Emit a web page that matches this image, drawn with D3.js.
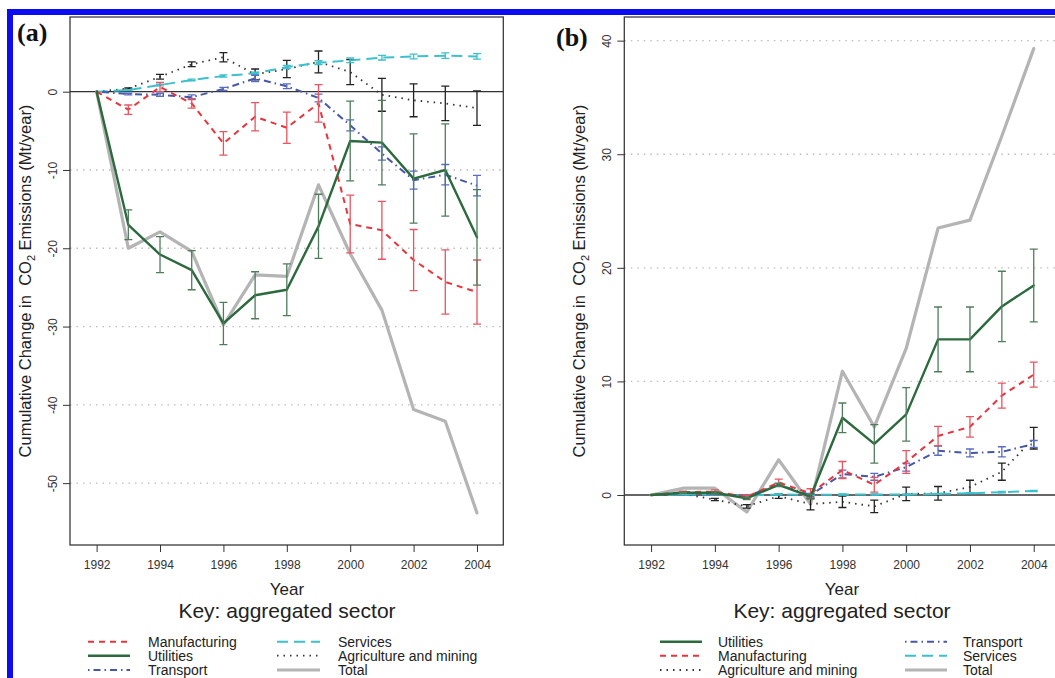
<!DOCTYPE html>
<html>
<head>
<meta charset="utf-8">
<script src="https://cdn.jsdelivr.net/npm/d3@7"></script>
<style>
body { margin: 0; background: #fff; }
text { font-family: "Liberation Sans", Arial, sans-serif; fill: #222; }
text.tag { font-family: "Liberation Serif", "Times New Roman", serif; font-weight: bold; fill: #111; }
</style>
</head>
<body>
<svg id="chart" width="1055" height="678"></svg>
<script>
const years = [1992, 1993, 1994, 1995, 1996, 1997, 1998, 1999, 2000, 2001, 2002, 2003, 2004];
const xTicks = [1992, 1994, 1996, 1998, 2000, 2002, 2004];

// panel (a): cumulative change, Mt/year
const aManufacturing    = [0, -2.3, 0.6, -1.5, -6.6, -3.2, -4.6, -1.5, -16.9, -17.7, -21.5, -24.3, -25.6];
const aManufacturingErr = [0, 0.6, 0.6, 0.6, 1.5, 1.8, 2.0, 2.4, 3.7, 3.7, 3.9, 4.1, 4.1];
const aUtilities        = [0, -17.0, -20.8, -22.8, -29.6, -26.0, -25.3, -17.2, -6.3, -6.5, -11.1, -10.0, -18.6];
const aUtilitiesErr     = [0, 1.9, 2.3, 2.5, 2.7, 3.0, 3.3, 4.1, 5.1, 5.4, 5.7, 5.9, 6.1];
const aTransport        = [0, -0.3, -0.4, -0.7, 0.35, 1.7, 0.7, -0.8, -4.3, -7.9, -11.3, -10.6, -12.0];
const aTransportErr     = [0, 0.1, 0.2, 0.3, 0.2, 0.4, 0.3, 0.5, 0.7, 0.85, 1.15, 1.3, 1.3];
const aServices         = [0, 0.2, 0.85, 1.5, 2.0, 2.35, 3.15, 3.7, 4.0, 4.35, 4.5, 4.6, 4.5];
const aServicesErr      = [0, 0.05, 0.1, 0.1, 0.15, 0.15, 0.2, 0.25, 0.3, 0.3, 0.3, 0.35, 0.35];
const aAgriculture      = [0, 0.4, 1.9, 3.5, 4.4, 2.2, 2.9, 3.8, 2.5, -0.4, -1.1, -1.5, -2.1];
const aAgricultureErr   = [0, 0.1, 0.3, 0.3, 0.6, 0.7, 1.1, 1.4, 1.6, 2.1, 2.1, 2.2, 2.2];
const aTotal            = [0, -20.0, -17.9, -20.4, -29.8, -23.4, -23.6, -11.9, -20.7, -27.9, -40.6, -42.1, -53.8];
const aTicksY = [0, -10, -20, -30, -40, -50];

// panel (b)
const bManufacturing    = [0, 0.25, 0.3, -0.15, 1.1, 0.15, 2.2, 0.9, 2.9, 5.2, 6.0, 8.75, 10.6];
const bManufacturingErr = [0, 0.1, 0.15, 0.15, 0.3, 0.4, 0.75, 0.65, 1.0, 0.85, 0.9, 1.1, 1.1];
const bUtilities        = [0, 0.2, 0.2, -0.3, 0.9, -0.15, 6.8, 4.5, 7.1, 13.7, 13.7, 16.6, 18.45];
const bUtilitiesErr     = [0, 0.05, 0.1, 0.1, 0.15, 0.2, 1.3, 1.7, 2.35, 2.85, 2.85, 3.1, 3.2];
const bTransport        = [0, 0.2, 0.1, -0.1, 0.9, 0.0, 1.85, 1.6, 2.45, 3.9, 3.7, 3.8, 4.5];
const bTransportErr     = [0, 0.05, 0.05, 0.1, 0.1, 0.15, 0.35, 0.3, 0.35, 0.4, 0.35, 0.45, 0.3];
const bServices         = [0, 0.05, 0.05, -0.05, 0.05, 0, 0.05, 0.05, 0.05, 0.1, 0.15, 0.25, 0.35];
const bServicesErr      = [0, 0.03, 0.03, 0.03, 0.04, 0.04, 0.05, 0.05, 0.05, 0.05, 0.05, 0.06, 0.06];
const bAgriculture      = [0, 0.1, -0.4, -1.0, -0.1, -0.8, -0.6, -1.0, 0.1, 0.15, 0.7, 2.05, 5.0];
const bAgricultureErr   = [0, 0.05, 0.1, 0.15, 0.2, 0.5, 0.5, 0.55, 0.6, 0.6, 0.6, 0.75, 0.95];
const bTotal            = [0, 0.6, 0.6, -1.5, 3.1, -0.8, 10.9, 6.0, 12.9, 23.5, 24.2, 31.6, 39.3];
const bTicksY = [0, 10, 20, 30, 40];

// legend order, column by column
const keyA = [["Manufacturing", "Utilities", "Transport"], ["Services", "Agriculture and mining", "Total"]];
const keyB = [["Utilities", "Manufacturing", "Agriculture and mining"], ["Transport", "Services", "Total"]];

const style = {
    "Manufacturing":          {color: "#e8343c", bar: "#e85560", dash: "6,5", width: 2},
    "Utilities":              {color: "#2b6a3c", bar: "#4f7d5c", dash: null, width: 2.4},
    "Transport":              {color: "#4657a8", bar: "#5a6cc0", dash: "1.5,4,7,4", width: 2},
    "Services":               {color: "#3cc0cc", bar: "#3cc0cc", dash: "11,6", width: 2},
    "Agriculture and mining": {color: "#333333", bar: "#222222", dash: "1.5,5", width: 1.8},
    "Total":                  {color: "#b4b4b4", bar: null, dash: null, width: 3.2}
};
const drawOrder = ["Total", "Agriculture and mining", "Services", "Transport", "Manufacturing", "Utilities"];

const svg = d3.select("#chart");
svg.append("rect").attr("width", 1055).attr("height", 678).attr("fill", "#fff");
svg.append("rect")
    .attr("x", 10).attr("y", 12).attr("width", 1200).attr("height", 800)
    .attr("fill", "none").attr("stroke", "#0c0cf2").attr("stroke-width", 6);

function panel(p) {
    const [left, top, right, bottom] = p.box;
    const x = d3.scaleLinear().domain([1991.16, 2004.83]).range([left, right]);
    const y = d3.scaleLinear().domain(p.yDomain).range([bottom, top]);
    const g = svg.append("g");

    // dotted grid
    g.selectAll(".grid").data(p.yTicks.filter(d => d !== 0)).join("line")
        .attr("x1", left).attr("x2", right)
        .attr("y1", d => y(d)).attr("y2", d => y(d))
        .attr("stroke", "#bdbdbd").attr("stroke-width", 1.3)
        .attr("stroke-dasharray", "1.5,5");
    g.append("line")
        .attr("x1", left).attr("x2", right)
        .attr("y1", y(0)).attr("y2", y(0))
        .attr("stroke", "#333").attr("stroke-width", 1.3);

    const line = d3.line()
        .x((d, i) => x(years[i]))
        .y(d => y(d));

    drawOrder.forEach(function(name) {
        const s = style[name];
        const vals = p.values[name];
        g.append("path")
            .datum(vals)
            .attr("fill", "none")
            .attr("stroke", s.color)
            .attr("stroke-width", s.width)
            .attr("stroke-dasharray", s.dash)
            .attr("stroke-linejoin", "round")
            .attr("stroke-linecap", s.dash ? "butt" : "round")
            .attr("d", line);
        const errs = p.errors[name];
        if (!errs) return;
        const bars = g.append("g")
            .attr("stroke", s.bar).attr("stroke-width", 1.3).attr("fill", "none");
        vals.forEach(function(v, i) {
            if (!errs[i]) return;
            const cx = x(years[i]);
            const y1 = y(v - errs[i]), y2 = y(v + errs[i]);
            bars.append("path")
                .attr("d", `M${cx},${y1}V${y2}M${cx - 4},${y1}H${cx + 4}M${cx - 4},${y2}H${cx + 4}`);
        });
    });

    // box
    g.append("rect")
        .attr("x", left).attr("y", top)
        .attr("width", right - left).attr("height", bottom - top)
        .attr("fill", "none").attr("stroke", "#3a3a3a").attr("stroke-width", 1.3);

    // y axis, R style labels
    g.append("g")
        .attr("transform", `translate(${left},0)`)
        .call(d3.axisLeft(y).tickValues(p.yTicks).tickSize(7))
        .call(a => a.select(".domain").remove())
        .call(a => a.selectAll("line").attr("stroke", "#333"))
        .call(a => a.selectAll("text")
            .attr("x", null).attr("dy", null)
            .attr("text-anchor", "middle")
            .attr("transform", "translate(-13,0) rotate(-90)")
            .attr("font-size", 12)
            .style("fill", "#333")
            .text(d => d < 0 ? "-" + Math.abs(d) : d));

    // x axis
    g.append("g")
        .attr("transform", `translate(0,${bottom})`)
        .call(d3.axisBottom(x).tickValues(xTicks).tickSize(7).tickFormat(d3.format("d")))
        .call(a => a.select(".domain").remove())
        .call(a => a.selectAll("line").attr("stroke", "#333"))
        .call(a => a.selectAll("text")
            .attr("y", 24).attr("dy", null)
            .attr("font-size", 12)
            .style("fill", "#333"));

    g.append("text")
        .attr("x", p.center).attr("y", 595)
        .attr("text-anchor", "middle").attr("font-size", 17)
        .text("Year");

    const yl = g.append("text")
        .attr("transform", `translate(${p.ylabX},${(top + bottom) / 2}) rotate(-90)`)
        .attr("text-anchor", "middle").attr("font-size", 16.5)
        .style("white-space", "pre");
    yl.append("tspan").text("Cumulative Change in  CO");
    yl.append("tspan").attr("font-size", 11).attr("dy", 4).text("2");
    yl.append("tspan").attr("dy", -4).text(" Emissions (Mt/year)");

    g.append("text")
        .attr("class", "tag")
        .attr("x", p.tag[1]).attr("y", p.tag[2])
        .attr("font-size", 26)
        .text(p.tag[0]);

    // legend
    g.append("text")
        .attr("x", p.center).attr("y", 618)
        .attr("text-anchor", "middle").attr("font-size", 21)
        .text("Key: aggregated sector");
    const rowY = [641.7, 655.7, 670];
    p.key.forEach(function(col, c) {
        const [x1, x2, tx] = p.keyCols[c];
        col.forEach(function(name, r) {
            const s = style[name];
            g.append("line")
                .attr("x1", x1).attr("x2", x2)
                .attr("y1", rowY[r]).attr("y2", rowY[r])
                .attr("stroke", s.color).attr("stroke-width", s.width)
                .attr("stroke-dasharray", s.dash);
            g.append("text")
                .attr("x", tx).attr("y", rowY[r] + 5)
                .attr("font-size", 14)
                .text(name);
        });
    });
}

panel({
    box: [70, 17, 503.3, 545],
    yDomain: [-57.9, 9.54],
    yTicks: aTicksY,
    values: {
        "Manufacturing": aManufacturing, "Utilities": aUtilities, "Transport": aTransport,
        "Services": aServices, "Agriculture and mining": aAgriculture, "Total": aTotal
    },
    errors: {
        "Manufacturing": aManufacturingErr, "Utilities": aUtilitiesErr, "Transport": aTransportErr,
        "Services": aServicesErr, "Agriculture and mining": aAgricultureErr
    },
    tag: ["(a)", 17, 41],
    center: 287,
    ylabX: 31,
    key: keyA,
    keyCols: [[88, 130, 148], [277, 320, 338]]
});

panel({
    box: [624.3, 17, 1060.2, 545],
    yDomain: [-4.4, 42.08],
    yTicks: bTicksY,
    values: {
        "Manufacturing": bManufacturing, "Utilities": bUtilities, "Transport": bTransport,
        "Services": bServices, "Agriculture and mining": bAgriculture, "Total": bTotal
    },
    errors: {
        "Manufacturing": bManufacturingErr, "Utilities": bUtilitiesErr, "Transport": bTransportErr,
        "Services": bServicesErr, "Agriculture and mining": bAgricultureErr
    },
    tag: ["(b)", 556, 46],
    center: 842,
    ylabX: 585,
    key: keyB,
    keyCols: [[660, 702, 718], [905, 947, 963]]
});
</script>
</body>
</html>
